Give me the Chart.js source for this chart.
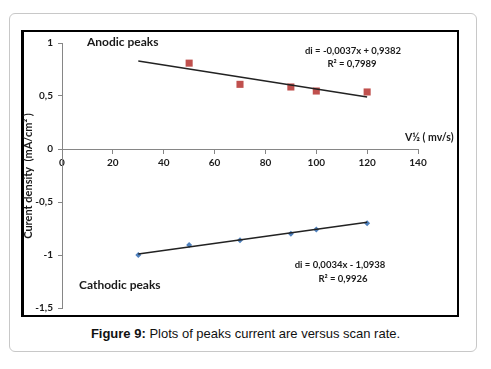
<!DOCTYPE html>
<html>
<head>
<meta charset="utf-8">
<script src="https://cdn.jsdelivr.net/npm/chart.js@4"></script>
<style>
  body { margin: 0; width: 491px; height: 369px; background: #fff; position: relative; overflow: hidden; }
  #box { position: absolute; left: 9px; top: 13px; width: 466px; height: 337px; border: 1px solid #c8c8c8; border-radius: 6px; }
  #frame { position: absolute; left: 21px; top: 30px; width: 433px; height: 283px; border: 2px solid #000; border-left-width: 3px; }
  #caption { position: absolute; left: 0; width: 491px; top: 326px; text-align: center;
             font-family: "Liberation Sans", Arial, sans-serif; font-size: 13px; color: #111; }
  #wrap { position: absolute; left: 0; top: 0; width: 491px; height: 369px; }
</style>
</head>
<body>
<div id="box"></div>
<div id="frame"></div>
<div id="caption"><b>Figure 9:</b> Plots of peaks current are versus scan rate.</div>
<div id="wrap"><canvas id="myChart" width="491" height="369"></canvas></div>
<script>
// values
var anodicX = [50, 70, 90, 100, 120];
var anodicY = [0.81, 0.61, 0.585, 0.547, 0.538];
var anodicFitX = [30, 120];
var anodicFitY = [0.83, 0.49];

var cathodicX = [30, 50, 70, 90, 100, 120];
var cathodicY = [-1.0, -0.905, -0.86, -0.80, -0.76, -0.70];
var cathodicFitX = [30, 120];
var cathodicFitY = [-0.99, -0.69];

var xTicks = [0, 20, 40, 60, 80, 100, 120, 140];
var yTicks = [-1.5, -1, -0.5, 0, 0.5, 1];

function pts(xs, ys) {
    var out = [];
    for (var i = 0; i < xs.length; i++) out.push({x: xs[i], y: ys[i]});
    return out;
}
function comma(v) {
    return String(v).replace('.', ',');
}

var tickFont = {family: 'Lato', size: 10, weight: 'bold'};

// text drawn on top of the plot (labels, equations, axis titles)
var notes = {
    id: 'notes',
    afterDraw: function(chart) {
        var c = chart.ctx;
        c.save();
        c.fillStyle = '#1a1a1a';
        c.textBaseline = 'middle';
        c.textAlign = 'left';
        c.font = 'bold 12px Lato';
        c.fillText('Anodic peaks', 87, 42);
        c.fillText('Cathodic peaks', 79, 285);
        c.font = 'bold 10.5px Lato';
        c.fillText('V½ ( mv/s)', 405, 138);
        c.textAlign = 'center';
        c.font = 'bold 9.5px Lato';
        c.fillText('di = -0,0037x + 0,9382', 353, 51);
        c.fillText('R² = 0,7989', 352, 64);
        c.fillText('di = 0,0034x - 1,0938', 340, 265);
        c.fillText('R² = 0,9926', 343, 279);
        // y axis title
        c.translate(28, 176);
        c.rotate(-Math.PI / 2);
        c.font = 'bold 11px Lato';
        c.fillText('Curent density  (mA/cm² )', 0, 0);
        c.restore();
    }
};

var ctx = document.getElementById('myChart');
var myChart = new Chart(ctx, {
    type: 'scatter',
    data: {
        datasets: [{
            label: 'Anodic fit',
            data: pts(anodicFitX, anodicFitY),
            showLine: true,
            borderColor: '#222',
            borderWidth: 1.5,
            pointRadius: 0
        }, {
            label: 'Cathodic fit',
            data: pts(cathodicFitX, cathodicFitY),
            showLine: true,
            borderColor: '#222',
            borderWidth: 1.5,
            pointRadius: 0
        }, {
            label: 'Anodic peaks',
            data: pts(anodicX, anodicY),
            pointStyle: 'rect',
            pointRadius: 5,
            backgroundColor: '#c0504d',
            borderColor: '#c0504d',
            borderWidth: 0
        }, {
            label: 'Cathodic peaks',
            data: pts(cathodicX, cathodicY),
            pointStyle: 'rectRot',
            pointRadius: 3,
            backgroundColor: '#4f81bd',
            borderColor: '#4f81bd',
            borderWidth: 0
        }]
    },
    options: {
        responsive: false,
        animation: false,
        layout: {padding: {left: 22, right: 73, top: 43, bottom: 61}},
        plugins: {legend: {display: false}, tooltip: {enabled: false}},
        scales: {
            x: {
                type: 'linear',
                min: 0, max: 140,
                position: {y: 0},
                afterBuildTicks: function(s) { s.ticks = xTicks.map(function(v) { return {value: v}; }); },
                ticks: {font: tickFont, color: '#1a1a1a', padding: 4, maxRotation: 0,
                        callback: function(v) { return comma(v); }},
                grid: {display: true, drawOnChartArea: false, drawTicks: true, tickLength: 4, color: '#868686'},
                border: {color: '#868686', width: 1}
            },
            y: {
                type: 'linear',
                min: -1.5, max: 1,
                afterBuildTicks: function(s) { s.ticks = yTicks.map(function(v) { return {value: v}; }); },
                afterFit: function(s) { s.width = 40; },
                ticks: {font: tickFont, color: '#1a1a1a', padding: 5,
                        callback: function(v) { return comma(v); }},
                grid: {display: true, drawOnChartArea: false, drawTicks: true, tickLength: 4, color: '#868686'},
                border: {color: '#868686', width: 1}
            }
        }
    },
    plugins: [notes]
});
</script>
</body>
</html>
